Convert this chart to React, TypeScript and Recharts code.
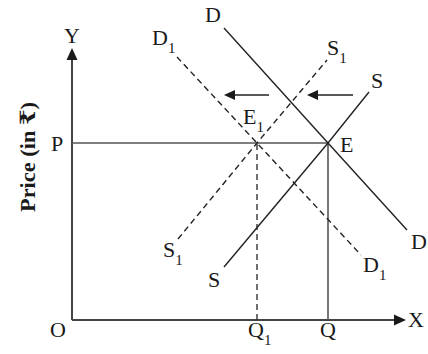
import React from 'react';
import { ComposedChart, Line, Scatter, XAxis, YAxis } from 'recharts';

// Curves (q = quantity units, p = price units; origin O at 0,0)
const demandD = [
  { q: 152, p: 292 },
  { q: 256, p: 177 },
  { q: 335, p: 90 },
];
const demandD1 = [
  { q: 105, p: 263 },
  { q: 185, p: 177 },
  { q: 289, p: 65 },
];
const supplyS = [
  { q: 152, p: 53 },
  { q: 256, p: 177 },
  { q: 297, p: 228 },
];
const supplyS1 = [
  { q: 106, p: 81 },
  { q: 185, p: 177 },
  { q: 255, p: 260 },
];

// Guide lines
const priceLineP = [
  { q: 0, p: 177 },
  { q: 256, p: 177 },
];
const qtyLineQ = [
  { q: 256, p: 0 },
  { q: 256, p: 177 },
];
const qtyLineQ1 = [
  { q: 185, p: 0 },
  { q: 185, p: 177 },
];
const axisY = [
  { q: 0, p: 0 },
  { q: 0, p: 262 },
];
const axisX = [
  { q: 0, p: 0 },
  { q: 324, p: 0 },
];
const shiftArrow1 = [
  { q: 197, p: 225 },
  { q: 160, p: 225 },
];
const shiftArrow2 = [
  { q: 281, p: 225 },
  { q: 243, p: 225 },
];

// Arrow heads (tip positions)
const arrowHeads = [
  { q: 0, p: 272, dir: 'up', big: 1 },
  { q: 334, p: 0, dir: 'right', big: 1 },
  { q: 152, p: 225, dir: 'left', big: 0 },
  { q: 235, p: 225, dir: 'left', big: 0 },
];

// Text labels
const labels = [
  { q: 0, p: 277, text: 'Y', sub: '', anchor: 'middle' },
  { q: -21, p: 169, text: 'P', sub: '', anchor: 'start' },
  { q: 133, p: 298, text: 'D', sub: '', anchor: 'start' },
  { q: 80, p: 275, text: 'D', sub: '1', anchor: 'start' },
  { q: 255, p: 265, text: 'S', sub: '1', anchor: 'start' },
  { q: 299, p: 232, text: 'S', sub: '', anchor: 'start' },
  { q: 171, p: 196, text: 'E', sub: '1', anchor: 'start' },
  { q: 268, p: 168, text: 'E', sub: '', anchor: 'start' },
  { q: 91, p: 63, text: 'S', sub: '1', anchor: 'start' },
  { q: 136, p: 33, text: 'S', sub: '', anchor: 'start' },
  { q: 339, p: 71, text: 'D', sub: '', anchor: 'start' },
  { q: 291, p: 48, text: 'D', sub: '1', anchor: 'start' },
  { q: -22, p: -17, text: 'O', sub: '', anchor: 'start' },
  { q: 176, p: -17, text: 'Q', sub: '1', anchor: 'start' },
  { q: 248, p: -17, text: 'Q', sub: '', anchor: 'start' },
  { q: 336, p: -7, text: 'X', sub: '', anchor: 'start' },
];
const axisTitle = [{ q: -44, p: 163, text: 'Price (in ₹)' }];

const FONT = '"Liberation Serif", "DejaVu Serif", serif';

const ArrowHead = (props: any) => {
  const { cx, cy, payload } = props;
  const len = payload.big ? 12 : 11;
  const half = payload.big ? 5.5 : 5;
  let pts = '';
  if (payload.dir === 'up') pts = `${cx},${cy} ${cx - half},${cy + len} ${cx + half},${cy + len}`;
  else if (payload.dir === 'right') pts = `${cx},${cy} ${cx - len},${cy - half} ${cx - len},${cy + half}`;
  else pts = `${cx},${cy} ${cx + len},${cy - half} ${cx + len},${cy + half}`;
  return <polygon points={pts} fill="#1a1a1a" />;
};

const LabelText = (props: any) => {
  const { cx, cy, payload } = props;
  return (
    <text x={cx} y={cy} textAnchor={payload.anchor} fontFamily={FONT} fontSize={22} fill="#1a1a1a">
      {payload.text}
      {payload.sub ? (
        <tspan fontSize={15} dy={8}>
          {payload.sub}
        </tspan>
      ) : null}
    </text>
  );
};

const TitleText = (props: any) => {
  const { cx, cy, payload } = props;
  return (
    <text
      x={cx}
      y={cy}
      textAnchor="middle"
      dominantBaseline="central"
      transform={`rotate(-90 ${cx} ${cy})`}
      fontFamily={FONT}
      fontWeight="bold"
      fontSize={21}
      textLength={110}
      lengthAdjust="spacingAndGlyphs"
      fill="#1a1a1a"
    >
      {payload.text}
    </text>
  );
};

const seg = (data: any[], key: string, stroke: string, width: number, dash?: string) => (
  <Line
    key={key}
    data={data}
    dataKey="p"
    type="linear"
    stroke={stroke}
    strokeWidth={width}
    strokeDasharray={dash}
    dot={false}
    activeDot={false}
    isAnimationActive={false}
    legendType="none"
  />
);

export default function App() {
  return (
    <div style={{ position: 'absolute', left: 0, top: 0, width: 428, height: 354, background: '#fff' }}>
      <ComposedChart width={428} height={354} margin={{ top: 0, right: 0, bottom: 0, left: 0 }}>
        <XAxis type="number" dataKey="q" domain={[-72, 356]} allowDataOverflow hide />
        <YAxis type="number" dataKey="p" domain={[-34, 320]} allowDataOverflow hide />
        {seg(axisY, 'ay', '#444', 2)}
        {seg(axisX, 'ax', '#444', 2)}
        {seg(priceLineP, 'pl', '#555', 1.6)}
        {seg(qtyLineQ, 'ql', '#555', 1.6)}
        {seg(qtyLineQ1, 'q1l', '#333', 1.4, '6 4')}
        {seg(demandD, 'd', '#222', 1.4)}
        {seg(supplyS, 's', '#222', 1.4)}
        {seg(demandD1, 'd1', '#222', 1.4, '6 4')}
        {seg(supplyS1, 's1', '#222', 1.4, '6 4')}
        {seg(shiftArrow1, 'a1', '#222', 1.4)}
        {seg(shiftArrow2, 'a2', '#222', 1.4)}
        <Scatter data={arrowHeads} dataKey="p" shape={ArrowHead} isAnimationActive={false} legendType="none" />
        <Scatter data={labels} dataKey="p" shape={LabelText} isAnimationActive={false} legendType="none" />
        <Scatter data={axisTitle} dataKey="p" shape={TitleText} isAnimationActive={false} legendType="none" />
      </ComposedChart>
    </div>
  );
}
